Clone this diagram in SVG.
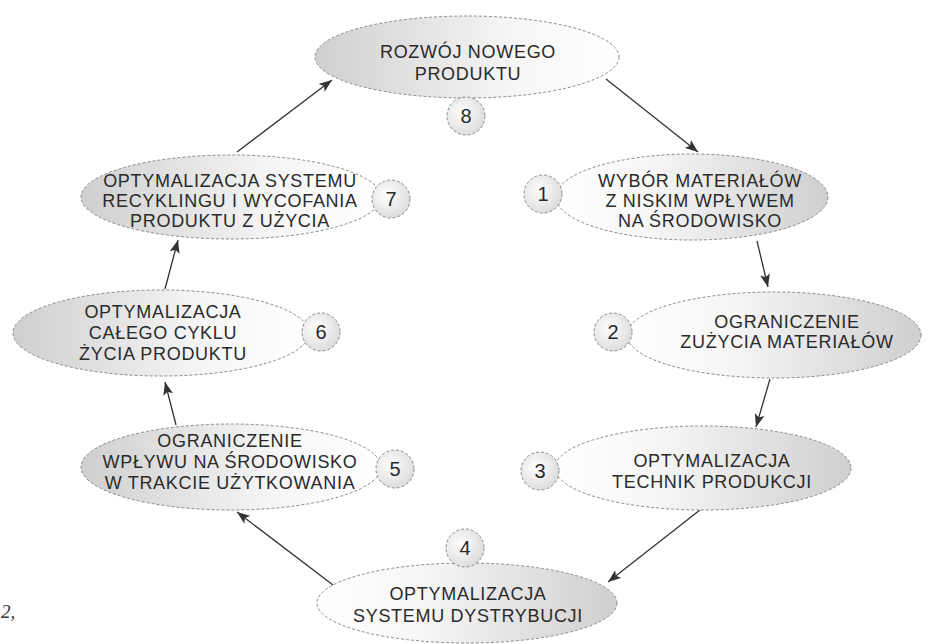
<svg xmlns="http://www.w3.org/2000/svg" width="931" height="644" viewBox="0 0 931 644">
<style>
.el{stroke:#8a8a8a;stroke-width:1;stroke-dasharray:3 2}
.ci{fill:url(#gc);stroke:#8a8a8a;stroke-width:1;stroke-dasharray:3 2}
.t{font-family:"Liberation Sans",Arial,sans-serif;font-size:18px;letter-spacing:0.7px;fill:#2a2a2a;text-anchor:middle}
.n{font-family:"Liberation Sans",Arial,sans-serif;font-size:20px;fill:#2a2a2a;text-anchor:middle}
.c{stroke:#333;stroke-width:1.3;fill:none;marker-end:url(#ah)}
</style>
<defs>
<linearGradient id="gl" x1="0" y1="0" x2="1" y2="0">
<stop offset="0" stop-color="#cfcfcf"/><stop offset="0.65" stop-color="#f6f6f6"/><stop offset="1" stop-color="#ffffff"/>
</linearGradient>
<linearGradient id="gr" x1="0" y1="0" x2="1" y2="0">
<stop offset="0" stop-color="#ffffff"/><stop offset="0.35" stop-color="#f6f6f6"/><stop offset="1" stop-color="#cfcfcf"/>
</linearGradient>
<radialGradient id="gc" cx="0.4" cy="0.4" r="0.7">
<stop offset="0" stop-color="#ffffff"/><stop offset="1" stop-color="#d8d8d8"/>
</radialGradient>
<marker id="ah" markerUnits="userSpaceOnUse" markerWidth="14" markerHeight="10" refX="13" refY="5" orient="auto">
<path d="M0,0 L13,5 L0,10 L3,5 z" fill="#333"/>
</marker>
</defs>
<g id="connectors">
<line class="c" x1="606" y1="79" x2="698" y2="152"/>
<line class="c" x1="757" y1="241" x2="768" y2="287"/>
<line class="c" x1="770" y1="379" x2="756" y2="427"/>
<line class="c" x1="700" y1="510" x2="608" y2="582"/>
<line class="c" x1="333" y1="585" x2="237" y2="512"/>
<line class="c" x1="176" y1="425" x2="165" y2="382"/>
<line class="c" x1="165" y1="289" x2="178" y2="240"/>
<line class="c" x1="237" y1="152" x2="332" y2="80"/>
</g>
<g id="node8">
<ellipse class="el" cx="467" cy="57" rx="152" ry="41" fill="url(#gl)"/>
<circle class="ci" cx="466" cy="116" r="19"/>
<text class="t" x="468" y="58">ROZWÓJ NOWEGO</text>
<text class="t" x="468" y="80">PRODUKTU</text>
<text class="n" x="466" y="123">8</text>
</g>
<g id="node1">
<ellipse class="el" cx="692" cy="197" rx="136" ry="43" fill="url(#gr)"/>
<circle class="ci" cx="543" cy="194" r="19"/>
<text class="t" x="700" y="187">WYBÓR MATERIAŁÓW</text>
<text class="t" x="700" y="207">Z NISKIM WPŁYWEM</text>
<text class="t" x="700" y="227">NA ŚRODOWISKO</text>
<text class="n" x="543" y="201">1</text>
</g>
<g id="node2">
<ellipse class="el" cx="774" cy="335" rx="147" ry="43" fill="url(#gr)"/>
<circle class="ci" cx="613" cy="332" r="19"/>
<text class="t" x="787" y="328">OGRANICZENIE</text>
<text class="t" x="787" y="348">ZUŻYCIA MATERIAŁÓW</text>
<text class="n" x="613" y="339">2</text>
</g>
<g id="node3">
<ellipse class="el" cx="703" cy="468" rx="148" ry="42" fill="url(#gr)"/>
<circle class="ci" cx="540" cy="471" r="19"/>
<text class="t" x="712" y="467">OPTYMALIZACJA</text>
<text class="t" x="712" y="488">TECHNIK PRODUKCJI</text>
<text class="n" x="540" y="478">3</text>
</g>
<g id="node4">
<ellipse class="el" cx="467" cy="603" rx="150" ry="40" fill="url(#gr)"/>
<circle class="ci" cx="465" cy="548" r="19"/>
<text class="t" x="468" y="600">OPTYMALIZACJA</text>
<text class="t" x="468" y="622">SYSTEMU DYSTRYBUCJI</text>
<text class="n" x="465" y="555">4</text>
</g>
<g id="node5">
<ellipse class="el" cx="231" cy="467" rx="150" ry="43" fill="url(#gl)"/>
<circle class="ci" cx="395" cy="469" r="19"/>
<text class="t" x="230" y="447">OGRANICZENIE</text>
<text class="t" x="230" y="468">WPŁYWU NA ŚRODOWISKO</text>
<text class="t" x="230" y="489">W TRAKCIE UŻYTKOWANIA</text>
<text class="n" x="395" y="476">5</text>
</g>
<g id="node6">
<ellipse class="el" cx="161" cy="333" rx="148" ry="43" fill="url(#gl)"/>
<circle class="ci" cx="321" cy="332" r="19"/>
<text class="t" x="163" y="318">OPTYMALIZACJA</text>
<text class="t" x="163" y="339">CAŁEGO CYKLU</text>
<text class="t" x="163" y="360">ŻYCIA PRODUKTU</text>
<text class="n" x="321" y="339">6</text>
</g>
<g id="node7">
<ellipse class="el" cx="231" cy="197" rx="150" ry="42" fill="url(#gl)"/>
<circle class="ci" cx="391" cy="199" r="19"/>
<text class="t" x="230" y="187">OPTYMALIZACJA SYSTEMU</text>
<text class="t" x="230" y="207">RECYKLINGU I WYCOFANIA</text>
<text class="t" x="230" y="227">PRODUKTU Z UŻYCIA</text>
<text class="n" x="391" y="206">7</text>
</g>
<text x="1" y="618" font-family="Liberation Serif, serif" font-style="italic" font-size="19" fill="#333">2,</text>
</svg>
